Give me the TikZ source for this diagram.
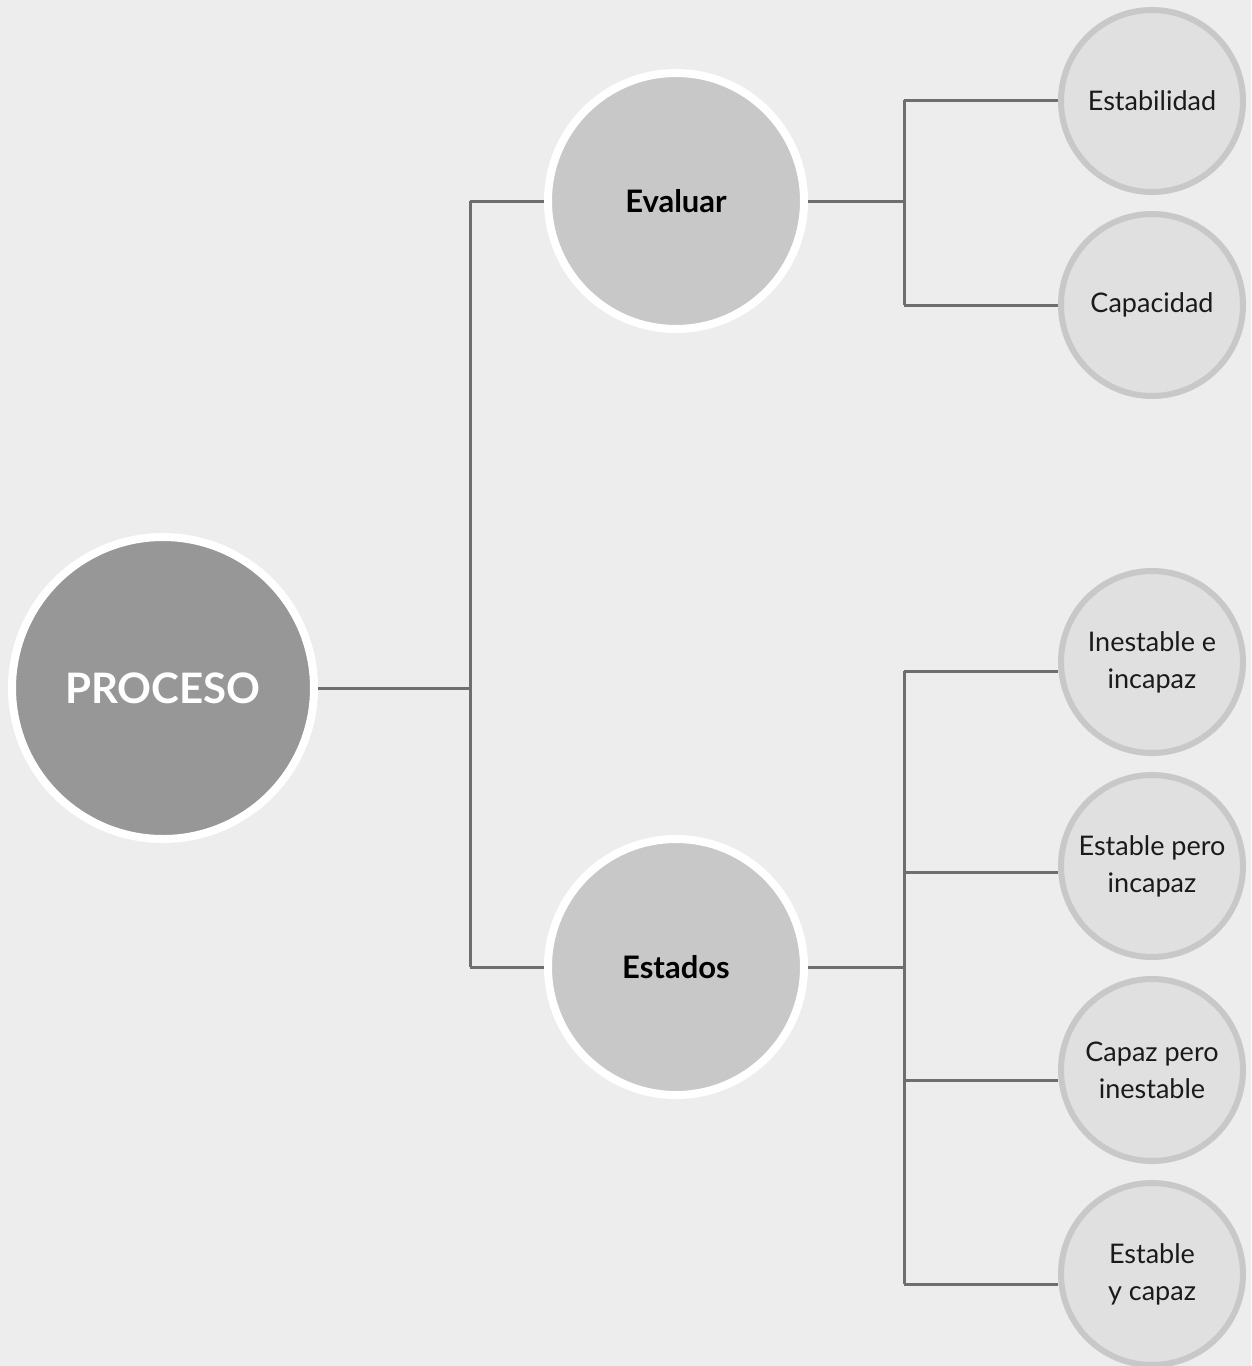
\documentclass[tikz,border=0pt]{standalone}
\usepackage{fontspec}
\setmainfont{Lato}
\definecolor{bgc}{HTML}{EDEDED}
\definecolor{rootfill}{HTML}{979797}
\definecolor{midfill}{HTML}{C8C8C8}
\definecolor{leaffill}{HTML}{E0E0E0}
\definecolor{leafedge}{HTML}{C8C8C8}
\definecolor{linec}{HTML}{6E6E6E}
\definecolor{txt}{HTML}{1A1A1A}
\tikzset{
  rootnode/.style={circle, fill=rootfill, draw=white, line width=8pt, minimum size=302pt, inner sep=0pt, text=white, font=\fontsize{42}{50}\selectfont\bfseries},
  midnode/.style={circle, fill=midfill, draw=white, line width=8pt, minimum size=256pt, inner sep=0pt, text=black, font=\fontsize{31}{36}\selectfont\bfseries},
  leafnode/.style={circle, fill=leaffill, draw=leafedge, line width=6pt, minimum size=182pt, inner sep=0pt, text=txt, align=center, font=\fontsize{27}{37}\selectfont},
  conn/.style={draw=linec, line width=3pt}
}
\begin{document}
\begin{tikzpicture}[x=1pt,y=-1pt]
\fill[bgc] (0,0) rectangle (1251,1366);
\useasboundingbox (0,0) rectangle (1251,1366);
% nodes
\node[rootnode] (proc) at (163,688) {PROCESO};
\node[midnode] (eval) at (676,201) {Evaluar};
\node[midnode] (est) at (676,967) {Estados};
\node[leafnode] (l1) at (1152,101) {Estabilidad};
\node[leafnode] (l2) at (1152,305) {Capacidad};
\node[leafnode] (l3) at (1152,662) {Inestable e\\incapaz};
\node[leafnode] (l4) at (1152,866) {Estable pero\\incapaz};
\node[leafnode] (l5) at (1152,1070) {Capaz pero\\inestable};
\node[leafnode] (l6) at (1152,1274) {Estable\\y capaz};
% junction coordinates
\coordinate (jr) at (470,688);
\coordinate (jrt) at (470,201);
\coordinate (jrb) at (470,967);
\coordinate (je) at (904,201);
\coordinate (je1) at (904,100);
\coordinate (je2) at (904,305);
\coordinate (js) at (904,967);
\coordinate (js1) at (904,671);
\coordinate (js2) at (904,872);
\coordinate (js3) at (904,1080);
\coordinate (js4) at (904,1284);
% connectors
\draw[conn] (proc.east) -- (jr);
\draw[conn] (jrt) -- (jrb);
\draw[conn] (jrt) -- (eval.west);
\draw[conn] (jrb) -- (est.west);
\draw[conn] (eval.east) -- (je);
\draw[conn] (je1) -- (je2);
\draw[conn] (je1) -- (je1 -| l1.west);
\draw[conn] (je2) -- (je2 -| l2.west);
\draw[conn] (est.east) -- (js);
\draw[conn] (js1) -- (js4);
\draw[conn] (js1) -- (js1 -| l3.west);
\draw[conn] (js2) -- (js2 -| l4.west);
\draw[conn] (js3) -- (js3 -| l5.west);
\draw[conn] (js4) -- (js4 -| l6.west);
\end{tikzpicture}
\end{document}
